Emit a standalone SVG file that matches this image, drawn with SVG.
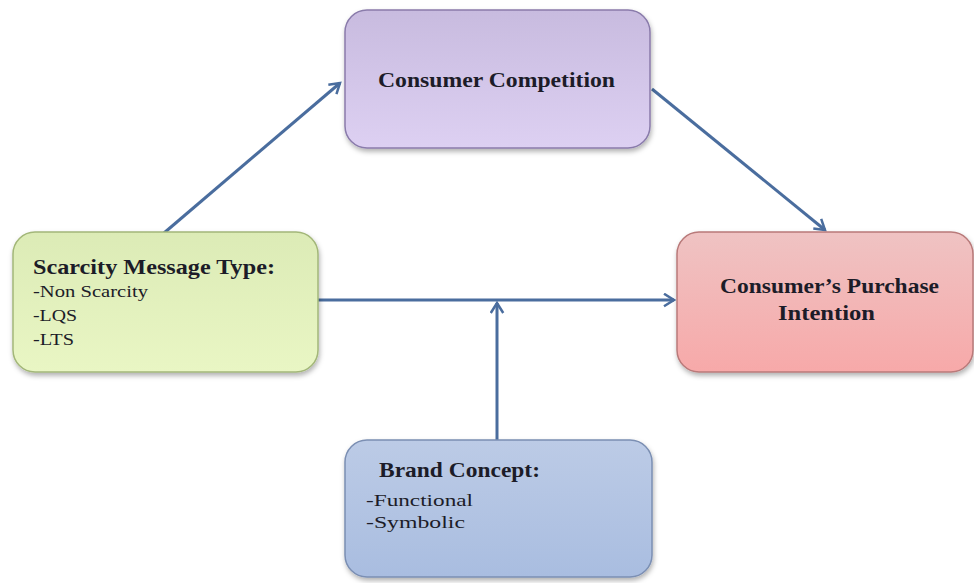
<svg xmlns="http://www.w3.org/2000/svg" width="974" height="583" viewBox="0 0 974 583">
<style>
.box{stroke-width:1.5}
.t{font-family:"Liberation Serif","Times New Roman",serif;fill:#1c1c28}
.b{font-weight:bold;font-size:21px}
.s{font-size:17px}
.c{fill:none;stroke:#4a6d9e;stroke-width:3}
</style>
<defs>
<linearGradient id="gp" x1="0" y1="0" x2="0" y2="1"><stop offset="0" stop-color="#c8bbdf"/><stop offset="1" stop-color="#ddd0f2"/></linearGradient>
<linearGradient id="gg" x1="0" y1="0" x2="0" y2="1"><stop offset="0" stop-color="#dcebb6"/><stop offset="1" stop-color="#e9f6c4"/></linearGradient>
<linearGradient id="gr" x1="0" y1="0" x2="0" y2="1"><stop offset="0" stop-color="#efc3c3"/><stop offset="1" stop-color="#f7a9a9"/></linearGradient>
<linearGradient id="gb" x1="0" y1="0" x2="0" y2="1"><stop offset="0" stop-color="#bccbe6"/><stop offset="1" stop-color="#a9bde0"/></linearGradient>
<filter id="sh" x="-10%" y="-10%" width="120%" height="130%"><feDropShadow dx="1" dy="3" stdDeviation="2.5" flood-color="#000" flood-opacity="0.3"/></filter>
<marker id="ah" viewBox="0 0 12 12" refX="10" refY="6" markerWidth="5" markerHeight="5" markerUnits="strokeWidth" orient="auto"><path d="M2,1 L10,6 L2,11" fill="none" stroke="#4a6d9e" stroke-width="2"/></marker>
</defs>
<rect width="974" height="583" fill="#ffffff"/>
<g id="connectors">
<line class="c" x1="164" y1="233" x2="340" y2="83" marker-end="url(#ah)"/>
<line class="c" x1="652" y1="89" x2="825" y2="230" marker-end="url(#ah)"/>
<line class="c" x1="318" y1="300" x2="674" y2="300" marker-end="url(#ah)"/>
<line class="c" x1="497" y1="440" x2="497" y2="303" marker-end="url(#ah)"/>
</g>
<g id="consumer-competition">
<rect class="box" x="345" y="10" width="305" height="138" rx="22" fill="url(#gp)" stroke="#8a7bab" filter="url(#sh)"/>
<text class="t b" x="378" y="87" font-size="22" textLength="237" lengthAdjust="spacingAndGlyphs">Consumer Competition</text>
</g>
<g id="scarcity">
<rect class="box" x="13" y="232" width="305" height="140" rx="22" fill="url(#gg)" stroke="#a3b779" filter="url(#sh)"/>
<text class="t b" x="33" y="274" textLength="242" lengthAdjust="spacingAndGlyphs">Scarcity  Message Type:</text>
<text class="t s" x="33" y="297" textLength="115" lengthAdjust="spacingAndGlyphs">-Non  Scarcity</text>
<text class="t s" x="33" y="321" textLength="44" lengthAdjust="spacingAndGlyphs">-LQS</text>
<text class="t s" x="33" y="345" textLength="41" lengthAdjust="spacingAndGlyphs">-LTS</text>
</g>
<g id="purchase-intention">
<rect class="box" x="677" y="232" width="296" height="140" rx="22" fill="url(#gr)" stroke="#b97a7a" filter="url(#sh)"/>
<text class="t b" x="720" y="293" textLength="219" lengthAdjust="spacingAndGlyphs">Consumer’s Purchase</text>
<text class="t b" x="778" y="320" textLength="97" lengthAdjust="spacingAndGlyphs">Intention</text>
</g>
<g id="brand-concept">
<rect class="box" x="345" y="440" width="307" height="137" rx="22" fill="url(#gb)" stroke="#7b8fb3" filter="url(#sh)"/>
<text class="t b" x="379" y="477" textLength="161" lengthAdjust="spacingAndGlyphs">Brand Concept:</text>
<text class="t s" x="366" y="506" font-size="18" textLength="107" lengthAdjust="spacingAndGlyphs">-Functional</text>
<text class="t s" x="366" y="528" font-size="18" textLength="99" lengthAdjust="spacingAndGlyphs">-Symbolic</text>
</g>
</svg>
